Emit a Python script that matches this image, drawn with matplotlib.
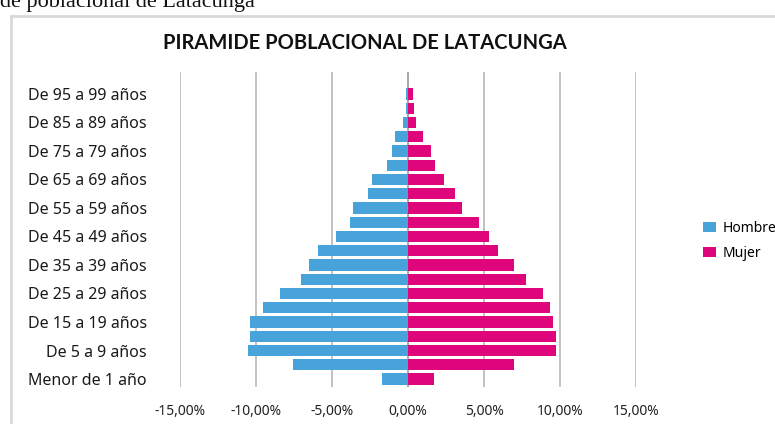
import matplotlib
matplotlib.use("Agg")
import matplotlib.pyplot as plt
from matplotlib.lines import Line2D
import numpy as np

# grupos de edad (de abajo hacia arriba)
grupos = ["Menor de 1 año", "De 1 a 4 años", "De 5 a 9 años", "De 10 a 14 años",
          "De 15 a 19 años", "De 20 a 24 años", "De 25 a 29 años", "De 30 a 34 años",
          "De 35 a 39 años", "De 40 a 44 años", "De 45 a 49 años", "De 50 a 54 años",
          "De 55 a 59 años", "De 60 a 64 años", "De 65 a 69 años", "De 70 a 74 años",
          "De 75 a 79 años", "De 80 a 84 años", "De 85 a 89 años", "De 90 a 94 años",
          "De 95 a 99 años"]

# porcentajes
hombre = [1.69, 7.56, 10.54, 10.38, 10.38, 9.52, 8.43, 7.06, 6.52, 5.93, 4.76,
          3.82, 3.59, 2.63, 2.39, 1.37, 1.04, 0.83, 0.33, 0.15, 0.10]
mujer = [1.68, 7.00, 9.73, 9.73, 9.56, 9.32, 8.91, 7.78, 7.00, 5.95, 5.32,
         4.67, 3.56, 3.08, 2.39, 1.78, 1.50, 0.96, 0.54, 0.41, 0.33]

xticks = [-15, -10, -5, 0, 5, 10, 15]
xtick_labels = ["-15,00%", "-10,00%", "-5,00%", "0,00%", "5,00%", "10,00%", "15,00%"]

azul = "#48a3db"
rosa = "#df067c"

fig = plt.figure(figsize=(7.75, 4.24), dpi=100)
plt.rcParams['font.family'] = ['Noto Sans', 'DejaVu Sans']

# texto cortado del documento arriba
fig.text(0.0, 1 - 7 / 424, "de poblacional de Latacunga", family="Liberation Serif",
         fontsize=16, ha="left", va="baseline", color="#111111")

# marco del grafico
fig.add_artist(Line2D([11 / 775, 11 / 775], [0, 1 - 16 / 424], color="#d9d9d9", lw=2))
fig.add_artist(Line2D([11 / 775, 1], [1 - 16 / 424, 1 - 16 / 424], color="#d9d9d9", lw=2))

ax = fig.add_axes([180 / 775, 1 - 387 / 424, 456 / 775, 315 / 424])

y = np.arange(len(grupos))
ax.barh(y, -np.array(hombre), height=0.8, color=azul, label="Hombre", zorder=3)
ax.barh(y, mujer, height=0.8, color=rosa, label="Mujer", zorder=3)

ax.set_xlim(-15, 15)
ax.set_ylim(-0.56, 21.54)
for xv in xticks:
    ax.axvline(xv, color="#bdbdbd" if xv != 0 else "#a0a0a0", lw=1.3, zorder=1)

for s in ax.spines.values():
    s.set_visible(False)

ax.set_xticks(xticks)
ax.set_xticklabels(xtick_labels, fontsize=10, color="#222222")
ax.set_yticks(y[::2])
ax.set_yticklabels(grupos[::2], fontsize=11.5, color="#1a1a1a")
ax.tick_params(axis="x", length=0, pad=12)
ax.tick_params(axis="y", length=0, pad=24)

fig.text(365 / 775, 1 - 43 / 424, "PIRAMIDE POBLACIONAL DE LATACUNGA", family="Lato",
         fontsize=14.5, fontweight="bold", ha="center", va="center", color="#111111")

fig.legend(loc="center left", bbox_to_anchor=(697 / 775, 1 - 241 / 424), frameon=False,
           fontsize=10, handlelength=1.0, handleheight=0.7, handletextpad=0.45,
           labelspacing=0.7, borderaxespad=0)

fig.savefig("out.png", dpi=100)
